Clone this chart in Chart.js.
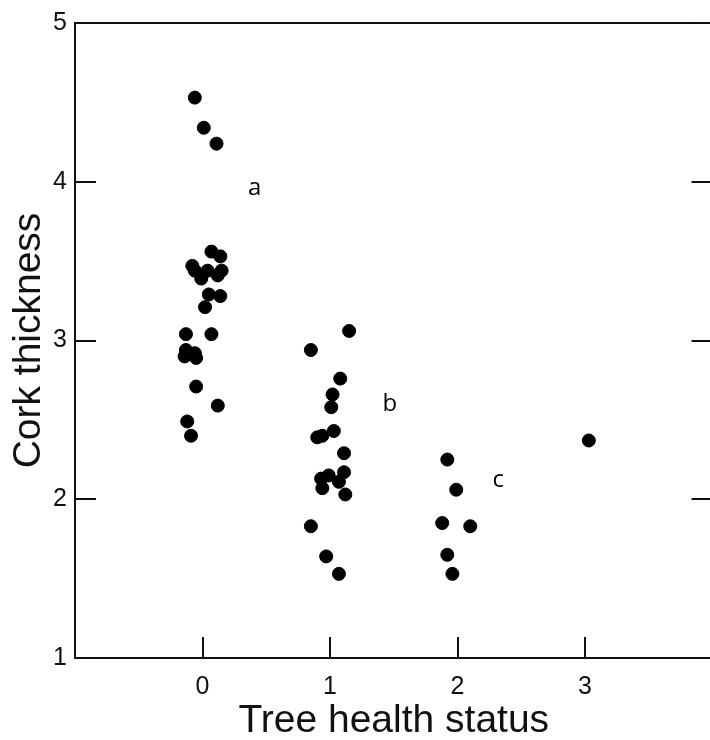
<!DOCTYPE html>
<html>
<head>
<meta charset="utf-8">
<script src="https://cdn.jsdelivr.net/npm/chart.js@4"></script>
<style>
    html, body { margin: 0; padding: 0; background: #fff; overflow: hidden; }
    #wrap { width: 720px; height: 740px; }
</style>
</head>
<body>
<div id="wrap"><canvas id="corkChart" width="720" height="740"></canvas></div>
<script>
// tree health status (jittered) and cork thickness
const healthStatus = [
    -0.06, 0.01, 0.11, 0.07, 0.14, -0.08, -0.06, -0.01, 0.04, 0.15, 0.12, 0.05,
    0.14, 0.02, -0.13, 0.07, -0.13, -0.06, -0.14, -0.05, -0.05, 0.12, -0.12, -0.09,
    1.15, 0.85, 1.08, 1.02, 1.01, 1.03, 0.90, 0.94, 1.11, 1.11, 0.93, 0.99,
    0.94, 1.07, 1.12, 0.85, 0.97, 1.07,
    1.92, 1.99, 1.88, 2.10, 1.92, 1.96, 3.03
];
const corkThickness = [
    4.53, 4.34, 4.24, 3.56, 3.53, 3.47, 3.44, 3.39, 3.44, 3.44, 3.41, 3.29,
    3.28, 3.21, 3.04, 3.04, 2.94, 2.92, 2.90, 2.89, 2.71, 2.59, 2.49, 2.40,
    3.06, 2.94, 2.76, 2.66, 2.58, 2.43, 2.39, 2.40, 2.29, 2.17, 2.13, 2.15,
    2.07, 2.11, 2.03, 1.83, 1.64, 1.53,
    2.25, 2.06, 1.85, 1.83, 1.65, 1.53, 2.37
];

const groupLetters = ['a', 'b', 'c'];
const letterX = [0.41, 1.47, 2.32];
const letterY = [3.96, 2.60, 2.12];

const xTicks = [0, 1, 2, 3];
const yTicks = [1, 2, 3, 4, 5];

const points = healthStatus.map((x, i) => ({ x: x, y: corkThickness[i] }));

// box round the plot with inward ticks, plus the a/b/c letters
const framePlugin = {
    id: 'frame',
    afterDraw(chart) {
        const ctx = chart.ctx;
        const xs = chart.scales.x;
        const ys = chart.scales.y;
        const { left, right, top, bottom } = chart.chartArea;
        const tick = 21;
        const lw = 2;

        ctx.save();
        ctx.fillStyle = '#111';
        // frame
        ctx.fillRect(left - 1, top - 1, right - left + 2, lw);
        ctx.fillRect(left - 1, bottom - 1, right - left + 2, lw);
        ctx.fillRect(left - 1, top - 1, lw, bottom - top + 2);
        ctx.fillRect(right - 1, top - 1, lw, bottom - top + 2);

        // inward ticks
        yTicks.forEach(v => {
            const py = Math.round(ys.getPixelForValue(v));
            ctx.fillRect(left, py - 1, tick, lw);
            ctx.fillRect(right - tick, py - 1, tick, lw);
        });
        xTicks.forEach(v => {
            const px = Math.round(xs.getPixelForValue(v));
            ctx.fillRect(px - 1, bottom - tick, lw, tick);
        });

        ctx.fillStyle = '#000';
        ctx.font = '24px "Open Sans"';
        ctx.textAlign = 'center';
        ctx.textBaseline = 'middle';
        groupLetters.forEach((t, i) => {
            ctx.fillText(t, xs.getPixelForValue(letterX[i]), ys.getPixelForValue(letterY[i]));
        });
        ctx.restore();
    }
};

const ctx = document.getElementById('corkChart').getContext('2d');
new Chart(ctx, {
    type: 'scatter',
    data: {
        datasets: [{
            data: points,
            backgroundColor: '#000',
            borderColor: '#000',
            pointRadius: 6.5,
            pointHoverRadius: 6.5
        }]
    },
    options: {
        responsive: false,
        animation: false,
        events: [],
        layout: { padding: { top: 20, right: 5, left: 0, bottom: 0 } },
        plugins: { legend: { display: false }, tooltip: { enabled: false } },
        scales: {
            x: {
                type: 'linear',
                min: -1,
                max: 4,
                afterBuildTicks: (s) => { s.ticks = xTicks.map(v => ({ value: v })); },
                afterFit: (s) => { s.height = 82; },
                grid: { display: false, drawTicks: false, tickLength: 0 },
                border: { display: false },
                ticks: {
                    padding: 14,
                    color: '#111',
                    font: { family: 'Liberation Sans', size: 25 }
                },
                title: {
                    display: true,
                    text: 'Tree health status',
                    color: '#111',
                    font: { family: 'Liberation Sans', size: 39 },
                    padding: { top: 0, bottom: -5 }
                }
            },
            y: {
                type: 'linear',
                min: 1,
                max: 5,
                afterBuildTicks: (s) => { s.ticks = yTicks.map(v => ({ value: v })); },
                afterFit: (s) => { s.width = 75; },
                grid: { display: false, drawTicks: false, tickLength: 0 },
                border: { display: false },
                ticks: {
                    padding: 8,
                    color: '#111',
                    font: { family: 'Liberation Sans', size: 25 }
                },
                title: {
                    display: true,
                    text: 'Cork thickness',
                    color: '#111',
                    font: { family: 'Liberation Sans', size: 39 },
                    padding: { top: 6, bottom: 0 }
                }
            }
        }
    },
    plugins: [framePlugin]
});
</script>
</body>
</html>
